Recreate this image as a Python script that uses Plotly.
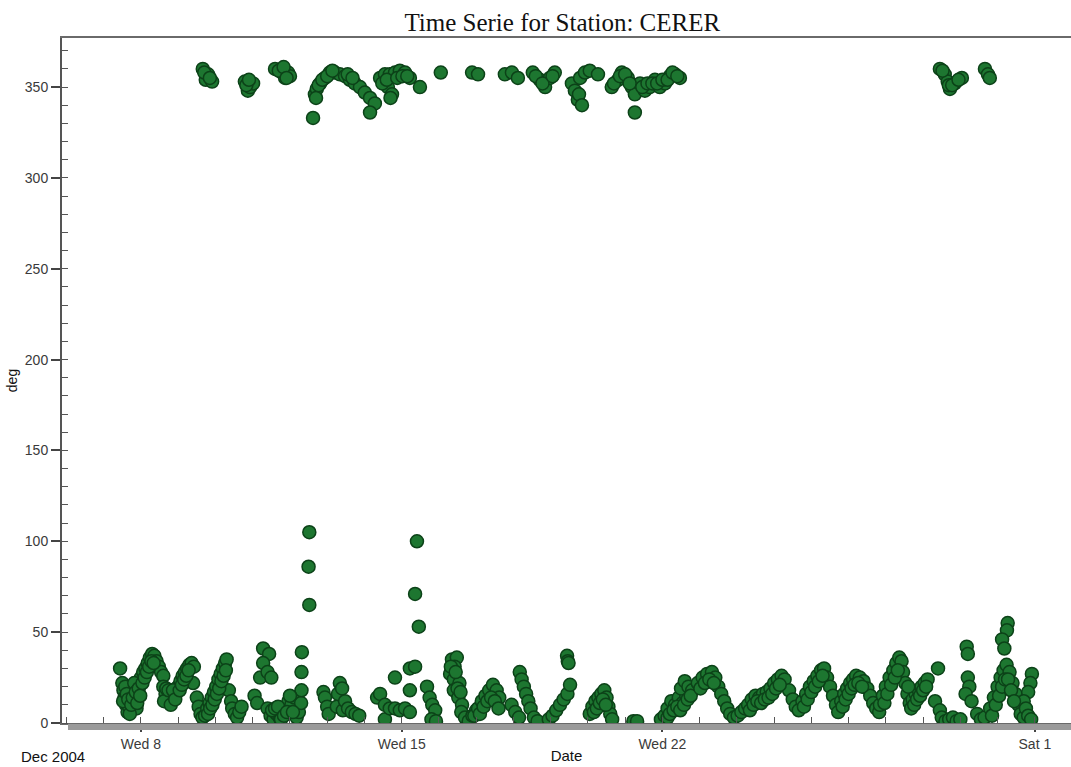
import pandas as pd
import plotly.graph_objects as go

# Wind direction at station CERER.
# Time is the decimal day of December 2004 (values above 32 fall on 1-2 January 2005).

# Directions in the 0-110 deg sector
low_day = [
    7.44, 7.50, 7.53, 7.56, 7.60, 7.64, 7.68, 7.72, 7.76, 7.80, 7.84, 7.88, 7.92, 7.96,
    8.00, 8.06, 8.12, 8.18, 8.24, 8.30, 8.36, 8.42, 8.48, 8.54, 8.60,
    8.60, 8.66, 8.72, 8.78, 8.84, 8.90, 8.95,
    9.00, 9.06, 9.12, 9.18, 9.24, 9.30, 9.36, 9.42, 9.40,
    9.50, 9.55, 9.60, 9.65,
    9.72, 9.78, 9.84, 9.90, 9.96, 10.02, 10.08, 10.14, 10.20, 10.26, 10.30,
    10.36, 10.42,
    10.45, 10.52, 10.58, 10.64, 10.70,
    11.05, 11.12,
    11.20, 11.28, 11.44, 11.28, 11.40, 11.50,
    11.40, 11.48, 11.56, 11.64, 11.72, 11.80, 11.88, 11.96, 12.04, 12.12,
    12.18, 12.24, 12.30, 12.31, 12.31, 12.32, 12.52, 12.50, 12.52,
    12.90, 12.94, 13.00, 13.04, 13.26, 13.29, 13.34, 13.42,
    13.40, 13.48, 13.56, 13.66, 13.76, 13.86,
    14.34, 14.42, 14.55, 14.55, 14.68, 14.82, 14.95, 15.09, 15.22, 14.82, 15.22, 15.22, 15.36,
    15.36, 15.41, 15.46,
    15.68, 15.75, 15.82, 15.90, 15.80, 15.92,
    16.35, 16.48, 16.42, 16.30, 16.40, 16.55,
    16.40, 16.52, 16.62,
    16.60, 16.70, 16.80, 16.90, 17.00,
    16.95, 17.05, 17.15, 17.25, 17.35, 17.45, 17.55, 17.62,
    17.95, 18.05, 18.15,
    18.17, 18.22, 18.28, 18.34, 18.40, 18.46,
    18.55, 18.65,
    18.95, 19.05, 19.15, 19.25, 19.35, 19.45,
    19.44, 19.46, 19.48, 19.52,
    20.05, 20.12, 20.20, 20.28, 20.36, 20.44, 20.50, 20.55, 20.60, 20.65,
    21.22, 21.32,
    21.96, 22.06, 22.14,
    22.14, 22.24, 22.34, 22.44, 22.54, 22.64,
    22.50, 22.60, 22.70, 22.80,
    22.95, 23.08, 23.20, 23.33, 23.42,
    23.50, 23.58, 23.66, 23.74,
    23.82, 23.92, 24.02, 24.12, 24.22,
    24.30, 24.40, 24.50, 24.60, 24.70, 24.80, 24.90,
    25.00, 25.10, 25.20, 25.28,
    25.40, 25.50, 25.58, 25.66,
    25.76, 25.86, 25.96, 26.06, 26.16, 26.26, 26.34,
    26.42, 26.50, 26.58, 26.66, 26.72,
    26.80, 26.88, 26.96, 27.04, 27.12, 27.20, 27.30, 27.40,
    27.50, 27.58, 27.66, 27.74, 27.82,
    27.84, 27.92, 28.00, 28.10, 28.20, 28.28, 28.36, 28.42,
    28.46, 28.52, 28.58, 28.64, 28.72, 28.80, 28.88, 28.96, 29.04, 29.12,
    29.40, 29.32, 29.45,
    29.50, 29.60, 29.70, 29.80, 29.90, 30.00,
    30.17, 30.20, 30.20, 30.24, 30.14, 30.30,
    30.45, 30.55, 30.65,
    30.80, 30.90, 31.00, 31.08, 31.16, 31.24, 31.32, 31.40, 31.48, 31.56, 31.62, 31.70,
    31.27, 31.25, 31.12, 31.18,
    31.92, 31.88, 31.82,
    31.70, 31.76, 31.82, 31.90,
    7.52, 7.58, 7.62, 7.66, 7.70, 7.74, 7.78, 7.82, 7.86, 7.90, 7.94, 7.98,
    8.04, 8.10, 8.16, 8.22, 8.28, 8.34,
    8.62, 8.68, 8.74, 8.80, 8.86, 8.92,
    9.04, 9.10, 9.16, 9.22, 9.28,
    9.80, 9.86, 9.92, 9.98, 10.04, 10.10, 10.16, 10.22, 10.28,
    11.52, 11.60, 11.68, 11.76, 11.84, 11.92, 12.00, 12.08,
    16.32, 16.45, 16.50, 16.58,
    17.10, 17.20, 17.30, 17.40, 17.50, 17.60,
    20.16, 20.24, 20.32, 20.40, 20.48,
    22.20, 22.30, 22.40, 22.48, 22.58, 22.68, 22.76,
    23.02, 23.14, 23.26, 23.38,
    24.35, 24.45, 24.55, 24.65, 24.75, 24.85, 24.95, 25.05, 25.15,
    25.80, 25.90, 26.00, 26.10, 26.20, 26.30,
    26.84, 26.92, 27.00, 27.08, 27.16, 27.26, 27.36,
    27.96, 28.04, 28.14, 28.24, 28.32,
    28.60, 28.68, 28.76, 28.84, 28.92, 29.00, 29.08,
    30.85, 30.95, 31.04, 31.12, 31.20, 31.28, 31.36, 31.44,
]
low_deg = [
    30, 22, 18, 14, 10, 6, 9, 15, 20, 18, 12, 8, 16, 22,
    25, 28, 30, 33, 36, 38, 37, 34, 31, 28, 26,
    20, 16, 13, 15, 12, 16, 19,
    20, 23, 26, 28, 30, 32, 33, 31, 22,
    14, 9, 5, 3,
    4, 8, 11, 14, 17, 20, 24, 27, 30, 33, 35,
    18, 12,
    8, 5, 3, 6, 9,
    15, 11,
    25, 41, 38, 33, 28, 25,
    8, 4, 2, 5, 3, 6, 9, 12, 10, 14,
    3, 6, 11, 18, 28, 39, 65, 86, 105,
    17, 14, 9, 5, 9, 16, 22, 7,
    19, 12, 8, 6, 5, 4,
    14, 16, 10, 2, 8, 8, 7, 8, 6, 25, 18, 30, 31,
    71, 100, 53,
    20, 14, 10, 7, 2, 1,
    35, 36, 31, 27, 24, 22,
    18, 14, 10,
    6, 3, 1, 4, 7,
    4, 8, 12, 15, 18, 21, 18, 14,
    10, 6, 3,
    28, 24, 20, 16, 12, 8,
    3, 1,
    2, 4, 7, 10, 13, 16,
    37, 34, 33, 21,
    5, 9, 12, 14, 16, 18, 14, 9, 5, 2,
    1, 1,
    2, 4, 3,
    8, 12, 10, 14, 11, 15,
    19, 23, 20, 18,
    22, 25, 27, 28, 25,
    20, 16, 12, 8,
    5, 3, 4, 6, 8,
    10, 13, 15, 14, 16, 17, 19,
    22, 24, 26, 24,
    18, 13, 9, 7,
    12, 16, 20, 23, 26, 29, 30,
    25, 20, 15, 10, 6,
    12, 16, 19, 22, 24, 26, 25, 23,
    19, 15, 11, 8, 6,
    10, 15, 20, 25, 29, 33, 36, 34,
    28, 22, 16, 11, 13, 16, 18, 20, 22, 24,
    30, 12, 7,
    3, 1, 2, 3, 1, 2,
    42, 38, 25, 20, 16, 12,
    5, 2, 3,
    8, 14, 20, 25, 29, 32, 28, 22, 16, 10, 5, 3,
    55, 51, 46, 41,
    27, 22, 17,
    12, 8, 4, 2,
    12, 20, 16, 13, 5, 10, 14, 22, 17, 11, 19, 15,
    22, 25, 28, 31, 34, 33,
    12, 19, 18, 10, 18, 13,
    18, 21, 24, 26, 29,
    5, 8, 10, 13, 16, 19, 23, 26, 29,
    7, 8, 9, 2, 4, 6, 15, 6,
    31, 28, 19, 17,
    5, 9, 12, 14, 12, 8,
    6, 8, 11, 13, 10,
    5, 7, 9, 7, 10, 13, 15,
    19, 22, 24, 22,
    7, 10, 12, 11, 13, 14, 16, 19, 21,
    9, 13, 17, 20, 23, 26,
    9, 13, 16, 19, 21, 22, 20,
    11, 16, 21, 25, 29,
    20, 8, 10, 13, 15, 18, 20,
    4, 10, 15, 20, 24, 24, 18, 12,
]

# Directions in the northerly sector near 360 deg
high_day = [
    9.66, 9.74, 9.80, 9.91,
    10.79, 10.87, 10.93, 11.01,
    11.60, 11.79, 11.87, 11.95, 12.00,
    12.62, 12.67, 12.72, 12.81, 12.94, 13.07, 13.21, 13.34,
    13.48, 13.61, 13.74, 13.88, 14.01, 14.15, 14.28, 14.15,
    14.42, 14.55, 14.63, 14.68, 14.74, 14.70, 14.82, 14.95, 15.09, 15.22,
    15.49, 16.05, 16.89, 17.05,
    17.77, 17.96, 18.12,
    18.52, 18.71, 18.85, 18.98, 19.11,
    19.57, 19.65, 19.73, 19.76, 19.84, 19.79, 19.92, 20.05, 20.27,
    20.64, 20.81, 20.91, 21.07, 21.18, 21.26, 21.26,
    21.40, 21.53, 21.66, 21.80, 21.93, 22.07, 22.20, 22.34, 22.47,
    29.45, 29.58, 29.66, 29.72, 29.85, 30.04,
    30.66, 30.74, 30.79,
    9.70, 9.85, 10.83, 10.90, 11.70, 11.83, 11.91,
    12.70, 12.77, 12.87, 13.00, 13.14, 13.55, 13.68,
    14.48, 14.60, 14.88, 15.02, 15.15,
    18.60, 18.78, 19.05,
    20.70, 20.86, 21.00, 21.12,
    21.46, 21.60, 21.73, 21.86, 22.00, 22.14, 22.27, 22.40,
    29.52, 29.69, 29.78, 29.95,
]
high_deg = [
    360, 354, 357, 353,
    353, 348, 350, 352,
    360, 358, 355, 358, 356,
    333, 346, 349, 352, 355, 358, 358, 357,
    356, 354, 352, 350, 347, 344, 341, 336,
    355, 357, 350, 357, 346, 344, 358, 359, 358, 355,
    350, 358, 358, 357,
    357, 358, 355,
    358, 354, 350, 355, 358,
    352, 348, 343, 346, 340, 355, 358, 359, 357,
    350, 354, 358, 355, 350, 346, 336,
    352, 348, 350, 354, 350, 352, 356, 357, 355,
    360, 357, 353, 349, 352, 355,
    360, 357, 355,
    358, 355, 351, 354, 359, 361, 355,
    344, 351, 354, 356, 359, 357, 355,
    352, 354, 355, 356, 356,
    356, 352, 356,
    352, 356, 357, 352,
    350, 352, 352, 352, 354, 354, 358, 356,
    359, 351, 351, 354,
]

# Axis labelling
x_window = [5.88, 32.97]
major_days = [8, 15, 22, 32]
major_labels = ["Wed 8", "Wed 15", "Wed 22", "Sat 1"]
y_range = [0, 377]


def to_time(days):
    base = pd.Timestamp("2004-12-01")
    return [base + pd.to_timedelta(d - 1, unit="D") for d in days]


fig = go.Figure()
fig.add_trace(go.Scatter(
    x=to_time(low_day + high_day),
    y=low_deg + high_deg,
    mode="markers",
    name="CERER",
    marker=dict(size=13, color="#1d7630", line=dict(color="#0c4218", width=1.5)),
    showlegend=False,
))

sans = "Liberation Sans, Arial, sans-serif"
axis_font = dict(family=sans, size=14, color="#3a3a3a")
daily = pd.date_range("2004-12-06", "2005-01-02", freq="D")

fig.update_layout(
    width=1071,
    height=767,
    margin=dict(l=62, r=0, t=38, b=44),
    paper_bgcolor="white",
    plot_bgcolor="white",
    title=dict(
        text="Time Serie for Station: CERER",
        font=dict(family="Liberation Serif, Times New Roman, serif", size=25, color="#111"),
        x=0.525, xref="container", xanchor="center",
        y=1 - 22 / 767, yref="container", yanchor="middle",
    ),
    xaxis=dict(
        type="date",
        range=to_time(x_window),
        tickmode="array",
        tickvals=to_time(major_days),
        ticktext=major_labels,
        ticks="outside",
        ticklen=7,
        tickwidth=1.5,
        tickcolor="#444",
        tickfont=axis_font,
        showgrid=False,
        zeroline=False,
        showline=True,
        linecolor="#6a6a6a",
        linewidth=2,
        mirror=True,
        minor=dict(tickmode="array", tickvals=list(daily), ticks="inside",
                   ticklen=6, tickcolor="#555", tickwidth=1, showgrid=False),
        title=dict(text="Date", font=dict(family=sans, size=15, color="#111"), standoff=0),
        automargin=False,
    ),
    yaxis=dict(
        range=y_range,
        tickmode="linear",
        tick0=0,
        dtick=50,
        ticks="outside",
        ticklen=9,
        tickwidth=1.5,
        tickcolor="#444",
        tickfont=axis_font,
        showgrid=False,
        zeroline=False,
        showline=True,
        linecolor="#555",
        linewidth=2,
        minor=dict(dtick=10, tick0=0, ticks="inside", ticklen=6,
                   tickcolor="#555", tickwidth=1, showgrid=False),
        title=dict(text="deg", font=dict(family=sans, size=14, color="#111"), standoff=4),
        automargin=False,
    ),
    shapes=[
        dict(type="rect", xref="paper", yref="paper",
             x0=6 / 1009, x1=1, y0=-7 / 685, y1=-1 / 685,
             fillcolor="#9a9a9a", line=dict(width=0), layer="above"),
    ],
    annotations=[
        dict(text="Dec 2004", xref="paper", yref="paper",
             x=-9 / 1009, y=-34 / 685, xanchor="center", yanchor="middle",
             showarrow=False,
             font=dict(family=sans, size=15, color="#111")),
    ],
)

fig.write_html("out.html")
